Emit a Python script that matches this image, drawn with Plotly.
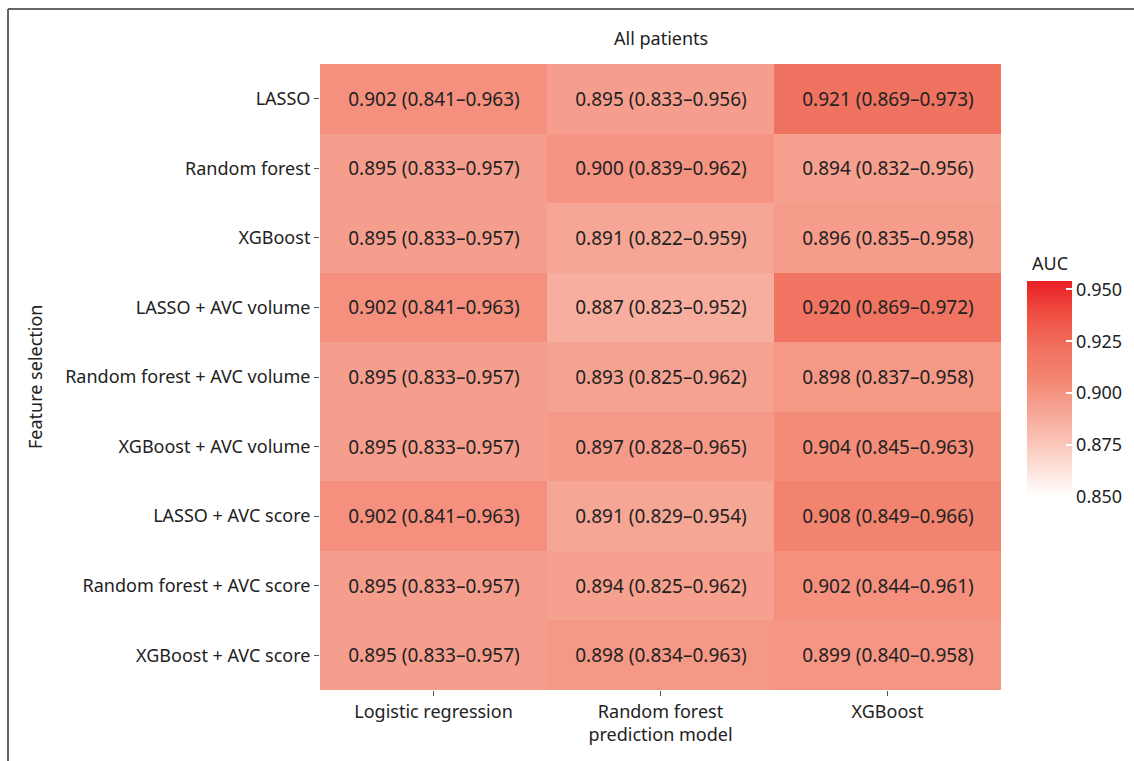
import plotly.graph_objects as go

models = ["Logistic regression", "Random forest<br>prediction model", "XGBoost"]
features = ["LASSO", "Random forest", "XGBoost", "LASSO + AVC volume",
            "Random forest + AVC volume", "XGBoost + AVC volume",
            "LASSO + AVC score", "Random forest + AVC score", "XGBoost + AVC score"]

auc = [
    [0.902, 0.895, 0.921],
    [0.895, 0.900, 0.894],
    [0.895, 0.891, 0.896],
    [0.902, 0.887, 0.920],
    [0.895, 0.893, 0.898],
    [0.895, 0.897, 0.904],
    [0.902, 0.891, 0.908],
    [0.895, 0.894, 0.902],
    [0.895, 0.898, 0.899],
]
ci_low = [
    [0.841, 0.833, 0.869],
    [0.833, 0.839, 0.832],
    [0.833, 0.822, 0.835],
    [0.841, 0.823, 0.869],
    [0.833, 0.825, 0.837],
    [0.833, 0.828, 0.845],
    [0.841, 0.829, 0.849],
    [0.833, 0.825, 0.844],
    [0.833, 0.834, 0.840],
]
ci_high = [
    [0.963, 0.956, 0.973],
    [0.957, 0.962, 0.956],
    [0.957, 0.959, 0.958],
    [0.963, 0.952, 0.972],
    [0.957, 0.962, 0.958],
    [0.957, 0.965, 0.963],
    [0.963, 0.954, 0.966],
    [0.957, 0.962, 0.961],
    [0.957, 0.963, 0.958],
]
cbar_ticks = [0.850, 0.875, 0.900, 0.925, 0.950]

labels = [[f"{a:.3f} ({l:.3f}\u2013{h:.3f})" for a, l, h in zip(ra, rl, rh)]
          for ra, rl, rh in zip(auc, ci_low, ci_high)]

cmin, cmax = 0.85, 0.954
colorscale = [
    [0.0, "#FFFFFF"],
    [0.18, "#FBD5CB"],
    [0.356, "#F7AE9E"],
    [0.481, "#F59482"],
    [0.55, "#F28570"],
    [0.68, "#F07360"],
    [0.85, "#EE4E42"],
    [0.962, "#EC2A2B"],
    [1.0, "#EA2026"],
]

font_family = "Noto Sans"
TXT = "#222222"
W, H = 1134, 761
L, R, T, B = 320, 133, 64, 71
pw, ph = W - L - R, H - T - B

def px_x(p):
    return (p - L) / pw

def px_y(p):
    return (H - B - p) / ph

fig = go.Figure(go.Heatmap(
    x=models, y=features, z=auc, text=labels, texttemplate="%{text}",
    textfont=dict(size=19, color=TXT, family=font_family),
    colorscale=colorscale, zmin=cmin, zmax=cmax, xgap=0, ygap=0,
    colorbar=dict(
        thickness=45, thicknessmode="pixels", len=216, lenmode="pixels",
        x=px_x(1027), xanchor="left", xpad=0, y=px_y(281), yanchor="top", ypad=0,
        tickvals=cbar_ticks, tickformat=".3f", ticks="inside", ticklen=6,
        tickcolor="white", tickwidth=1.5, outlinewidth=0,
        tickfont=dict(size=18, color=TXT),
    ),
))

fig.update_layout(
    width=W, height=H, margin=dict(l=L, r=R, t=T, b=B, autoexpand=False),
    paper_bgcolor="white", plot_bgcolor="white",
    font=dict(family=font_family, size=18, color=TXT),
    xaxis=dict(showgrid=False, zeroline=False, ticks="outside", ticklen=5,
               tickcolor="#555555", tickfont=dict(size=18, color=TXT)),
    yaxis=dict(showgrid=False, zeroline=False, ticks="outside", ticklen=5,
               tickcolor="#555555", autorange="reversed",
               tickfont=dict(size=18, color=TXT)),
    annotations=[
        dict(text="All patients", x=0.5, xref="paper", y=px_y(38),
             yref="paper", showarrow=False, yanchor="middle",
             font=dict(size=18, color=TXT)),
        dict(text="Feature selection", textangle=-90, x=px_x(35), xref="paper",
             y=0.5, yref="paper", showarrow=False, xanchor="center",
             font=dict(size=18, color=TXT)),
        dict(text="AUC", x=px_x(1030), xref="paper", xanchor="left",
             y=px_y(263), yref="paper", yanchor="middle", showarrow=False,
             font=dict(size=18, color=TXT)),
    ],
    shapes=[
        dict(type="line", xref="paper", yref="paper", x0=px_x(8), x1=px_x(1140),
             y0=px_y(9), y1=px_y(9), line=dict(color="#333333", width=1.5)),
        dict(type="line", xref="paper", yref="paper", x0=px_x(8), x1=px_x(8),
             y0=px_y(9), y1=px_y(770), line=dict(color="#333333", width=1.5)),
    ],
)

fig.write_html("out.html", config={"displayModeBar": False},
               post_script="document.body.style.margin='0';")
